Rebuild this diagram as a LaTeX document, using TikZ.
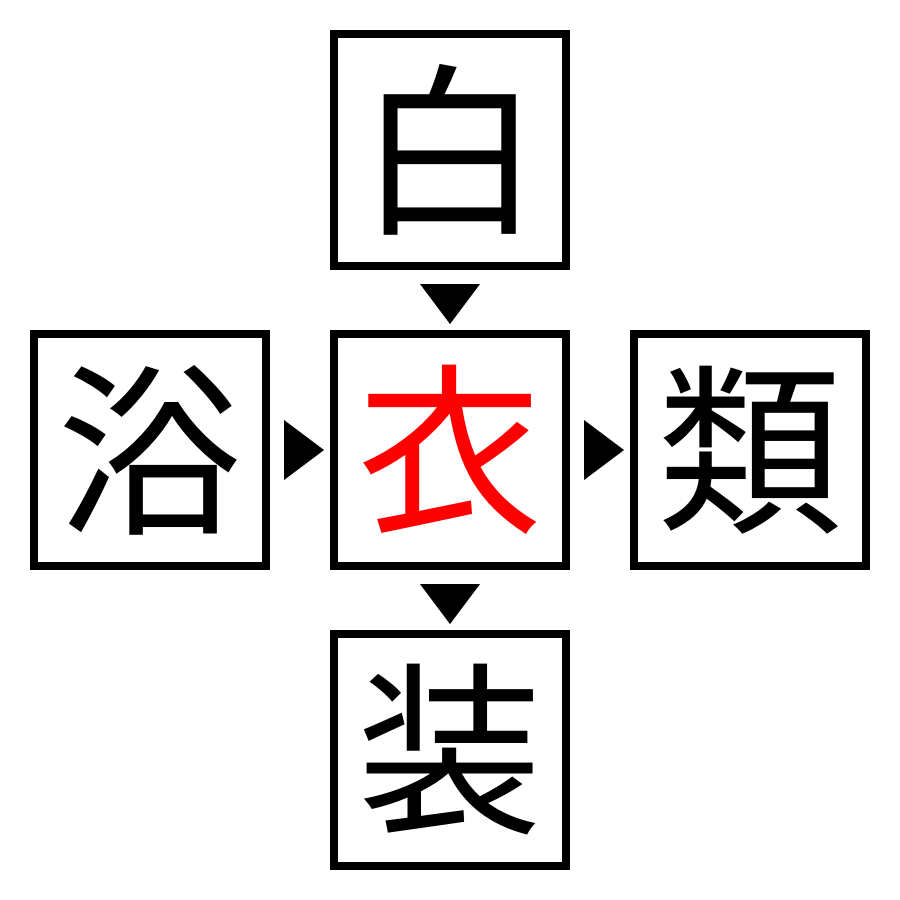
\documentclass[tikz,border=0pt]{standalone}
\usepackage{fontspec}
\newfontfamily\cjk{Noto Sans CJK JP}
\usetikzlibrary{calc}
\begin{document}
\begin{tikzpicture}[x=1pt,y=-1pt,
  box/.style={draw=black,line width=8pt,minimum size=232pt,inner sep=0pt,font=\cjk\fontsize{185}{185}\selectfont},
  tri/.style={fill=black}]
\useasboundingbox (0,0) rectangle (900,900);
\node[box] (c) at (450,450) {\textcolor{red}{衣}};
\node[box] (t) at (450,150) {白};
\node[box] (l) at (150,450) {浴};
\node[box] (r) at (750,450) {類};
\node[box] (b) at (450,750) {装};
\fill[tri] ($(t.south)+(-30,14)$) -- ($(t.south)+(30,14)$) -- ($(t.south)+(0,54)$) -- cycle;
\fill[tri] ($(c.south)+(-30,14)$) -- ($(c.south)+(30,14)$) -- ($(c.south)+(0,54)$) -- cycle;
\fill[tri] ($(l.east)+(14,-30)$) -- ($(l.east)+(14,30)$) -- ($(l.east)+(54,0)$) -- cycle;
\fill[tri] ($(c.east)+(14,-30)$) -- ($(c.east)+(14,30)$) -- ($(c.east)+(54,0)$) -- cycle;
\end{tikzpicture}
\end{document}
